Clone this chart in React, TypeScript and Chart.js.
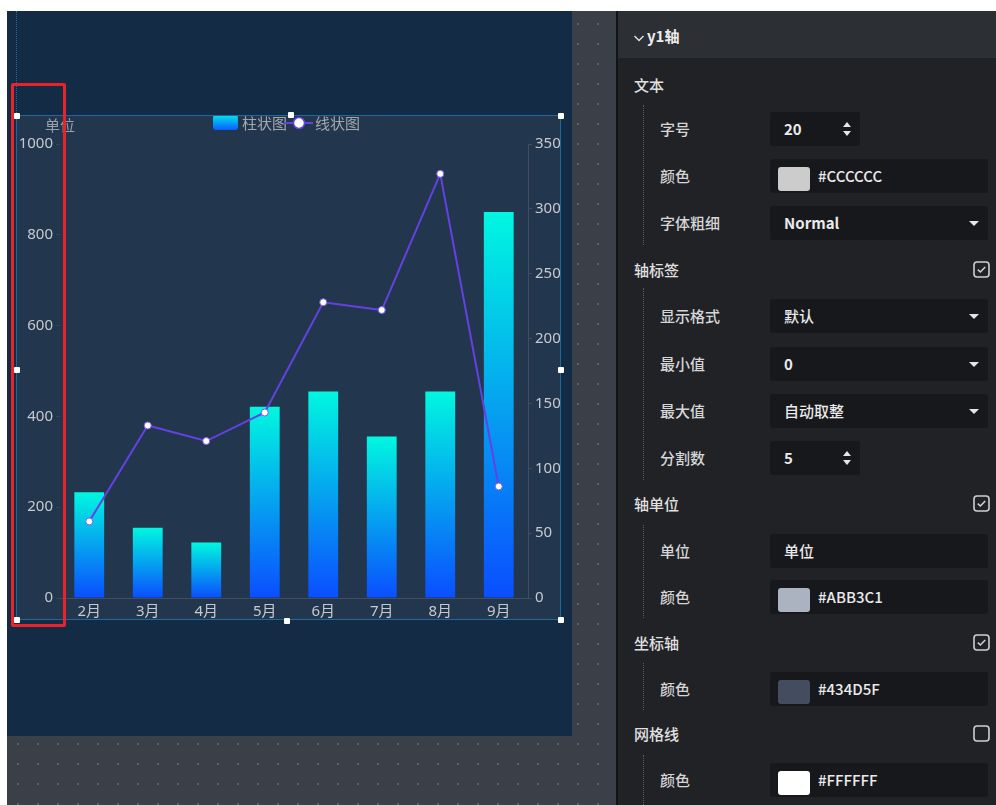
import React, { useEffect, useRef } from 'react';
import { Chart, registerables } from 'chart.js';

Chart.register(...registerables);

// ---------- chart data ----------
const categories = ['2月', '3月', '4月', '5月', '6月', '7月', '8月', '9月'];
const barValues = [233, 155, 122, 421, 455, 356, 455, 850];
const lineValues = [59, 133, 121, 143, 228, 222, 327, 86];
const seriesNames = ['柱状图', '线状图'];
const unitText = '单位';
const leftAxisRange = [0, 1000, 200];
const rightAxisRange = [0, 350, 50];

// ---------- settings panel data ----------
const sectionTitles = ['文本', '轴标签', '轴单位', '坐标轴', '网格线'];
const sectionCenters = [85, 270, 504, 643, 734];
const sectionChecks = [null, true, true, true, false];
const rowLabels = ['字号', '颜色', '字体粗细', '显示格式', '最小值', '最大值', '分割数', '单位', '颜色', '颜色', '颜色'];
const rowTops = [112, 159, 206, 299, 347, 394, 441, 534, 580, 672, 763];
const rowKinds = ['num', 'color', 'select', 'select', 'select', 'select', 'num', 'text', 'color', 'color', 'color'];
const rowValues = ['20', '#CCCCCC', 'Normal', '默认', '0', '自动取整', '5', '单位', '#ABB3C1', '#434D5F', '#FFFFFF'];
const guideSpans = [[105, 245], [288, 480], [525, 618], [663, 710], [755, 805]];

const CJK = '"Noto Sans CJK SC", "Noto Sans", sans-serif';
const TICK_FONT = '"Noto Sans", "Noto Sans CJK SC", sans-serif';

function ChartView() {
  const ref = useRef<HTMLCanvasElement>(null);
  useEffect(() => {
    const canvas = ref.current;
    if (!canvas) return;
    const tickColor = '#c6cad0';
    const axisColor = '#434D5F';
    const plainTick = (v: any) => String(v);

    const overlay = {
      id: 'overlay',
      afterDraw(chart: any) {
        const ctx = chart.ctx as CanvasRenderingContext2D;
        ctx.save();
        ctx.font = `15px ${CJK}`;
        ctx.textBaseline = 'middle';
        ctx.textAlign = 'left';
        // unit label
        ctx.fillStyle = '#98a0ac';
        ctx.fillText(unitText, 30, 17);
        // legend
        const cy = 14;
        const w1 = ctx.measureText(seriesNames[0]).width;
        const L = (chart.chartArea.left + chart.chartArea.right) / 2 - 81;
        const g = ctx.createLinearGradient(0, cy - 7, 0, cy + 8);
        g.addColorStop(0, '#00e6ea');
        g.addColorStop(1, '#0a5cff');
        ctx.fillStyle = g;
        ctx.beginPath();
        (ctx as any).roundRect(L, cy - 7, 25, 15, 3);
        ctx.fill();
        ctx.fillStyle = '#a3a8af';
        ctx.fillText(seriesNames[0], L + 29, cy + 1);
        const lx = L + 29 + w1 - 3;
        ctx.strokeStyle = '#6442e2';
        ctx.lineWidth = 2;
        ctx.beginPath();
        ctx.moveTo(lx, cy + 1);
        ctx.lineTo(lx + 29, cy + 1);
        ctx.stroke();
        ctx.beginPath();
        ctx.arc(lx + 15, cy + 1, 5.5, 0, Math.PI * 2);
        ctx.fillStyle = '#ffffff';
        ctx.fill();
        ctx.lineWidth = 1.5;
        ctx.stroke();
        ctx.fillStyle = '#a3a8af';
        ctx.fillText(seriesNames[1], lx + 31, cy + 1);
        ctx.restore();
      },
    };

    const chart = new Chart(canvas, {
      type: 'bar',
      data: {
        labels: categories,
        datasets: [
          {
            type: 'line',
            label: seriesNames[1],
            data: lineValues,
            yAxisID: 'y1',
            order: 0,
            borderColor: '#6442e2',
            borderWidth: 2,
            tension: 0,
            pointRadius: 3.5,
            pointBackgroundColor: '#ffffff',
            pointBorderColor: '#7a5cf0',
            pointBorderWidth: 1,
          } as any,
          {
            type: 'bar',
            label: seriesNames[0],
            data: barValues,
            yAxisID: 'y',
            order: 1,
            barPercentage: 0.51,
            categoryPercentage: 1,
            backgroundColor: (c: any) => {
              const ch = c.chart;
              if (!ch.chartArea || c.type !== 'data') return '#08a0f0';
              const ys = ch.scales.y;
              const top = ys.getPixelForValue(c.raw);
              const bottom = ys.getPixelForValue(0);
              const gr = ch.ctx.createLinearGradient(0, top, 0, bottom);
              gr.addColorStop(0, '#00f7e0');
              gr.addColorStop(1, '#0a4eff');
              return gr;
            },
          } as any,
        ],
      },
      options: {
        animation: false,
        responsive: true,
        maintainAspectRatio: false,
        layout: { padding: { top: 36, left: 0, right: 0, bottom: 0 } },
        plugins: { legend: { display: false }, tooltip: { enabled: false } },
        scales: {
          x: {
            grid: { display: false, drawTicks: false },
            border: { display: true, color: axisColor, width: 1 },
            ticks: { color: tickColor, font: { size: 15, family: TICK_FONT }, padding: 5, maxRotation: 0 },
            afterFit: (s: any) => { s.height = 22; },
          },
          y: {
            position: 'left',
            min: leftAxisRange[0],
            max: leftAxisRange[1],
            ticks: { stepSize: leftAxisRange[2], color: tickColor, font: { size: 15, family: TICK_FONT }, padding: 3, callback: plainTick },
            grid: { display: true, drawOnChartArea: false, drawTicks: true, tickLength: 4, color: '#33465b' },
            border: { display: false },
            afterFit: (s: any) => { s.width = 45; },
          },
          y1: {
            position: 'right',
            min: rightAxisRange[0],
            max: rightAxisRange[1],
            ticks: { stepSize: rightAxisRange[2], color: tickColor, font: { size: 15, family: TICK_FONT }, padding: 3, callback: plainTick },
            grid: { display: true, drawOnChartArea: false, drawTicks: true, tickLength: 4, color: axisColor },
            border: { display: true, color: axisColor, width: 1 },
            afterFit: (s: any) => { s.width = 42; },
          },
        } as any,
      },
      plugins: [overlay],
    });
    return () => chart.destroy();
  }, []);
  return (
    <div style={{ position: 'absolute', left: 15, top: 108, width: 555, height: 512 }}>
      <canvas ref={ref} />
    </div>
  );
}

function Handle({ x, y }: { x: number; y: number }) {
  return (
    <div style={{ position: 'absolute', left: x - 3, top: y - 3, width: 6, height: 6, background: '#ffffff', borderRadius: 1 }} />
  );
}

function Caret({ x, y }: { x: number; y: number }) {
  return (
    <div style={{ position: 'absolute', left: x - 5, top: y - 2, width: 0, height: 0, borderLeft: '5px solid transparent', borderRight: '5px solid transparent', borderTop: '5px solid #e6e6e6' }} />
  );
}

function Spinner({ x, y }: { x: number; y: number }) {
  return (
    <>
      <div style={{ position: 'absolute', left: x - 4, top: y - 7, width: 0, height: 0, borderLeft: '4px solid transparent', borderRight: '4px solid transparent', borderBottom: '5px solid #e6e6e6' }} />
      <div style={{ position: 'absolute', left: x - 4, top: y + 2, width: 0, height: 0, borderLeft: '4px solid transparent', borderRight: '4px solid transparent', borderTop: '5px solid #e6e6e6' }} />
    </>
  );
}

function CheckBox({ x, y, checked }: { x: number; y: number; checked: boolean }) {
  return (
    <svg style={{ position: 'absolute', left: x, top: y }} width={17} height={17} viewBox="0 0 17 17">
      <rect x={1} y={1} width={15} height={15} rx={3} ry={3} fill="none" stroke="#cfcfcf" strokeWidth={1.6} />
      {checked ? <polyline points="4.8,8.6 7.4,11 12.2,6" fill="none" stroke="#cfcfcf" strokeWidth={1.6} /> : null}
    </svg>
  );
}

function Panel() {
  const items: React.ReactNode[] = [];
  sectionTitles.forEach((t, i) => {
    items.push(
      <div key={'s' + i} style={{ position: 'absolute', left: 16, top: sectionCenters[i] - 11, fontSize: 15, lineHeight: '22px', color: '#e0e0e0', fontWeight: 500 }}>{t}</div>
    );
    const c = sectionChecks[i];
    if (c !== null) items.push(<CheckBox key={'c' + i} x={355} y={sectionCenters[i] - 9} checked={c as boolean} />);
  });
  guideSpans.forEach((g, i) => {
    items.push(
      <div key={'g' + i} style={{ position: 'absolute', left: 25, top: g[0], height: g[1] - g[0], width: 0, borderLeft: '1px dotted #5a5c61' }} />
    );
  });
  rowLabels.forEach((lab, i) => {
    const top = rowTops[i];
    const kind = rowKinds[i];
    const val = rowValues[i];
    const narrow = kind === 'num';
    items.push(
      <div key={'l' + i} style={{ position: 'absolute', left: 42, top: top + 6, fontSize: 15, lineHeight: '22px', color: '#d6d6d6', fontWeight: 500 }}>{lab}</div>
    );
    items.push(
      <div key={'b' + i} style={{ position: 'absolute', left: 152, top, width: narrow ? 90 : 218, height: 34, background: '#17181b', borderRadius: 3 }} />
    );
    if (kind === 'color') {
      items.push(
        <div key={'w' + i} style={{ position: 'absolute', left: 160, top: top + 8, width: 32, height: 24, background: val, borderRadius: 3 }} />
      );
      items.push(
        <div key={'v' + i} style={{ position: 'absolute', left: 200, top: top + 6, fontSize: 15, lineHeight: '22px', color: '#eaeaea', fontWeight: 500 }}>{val}</div>
      );
    } else {
      const isLatin = /^[0-9A-Za-z]+$/.test(val);
      items.push(
        <div key={'v' + i} style={{ position: 'absolute', left: 166, top: top + 6, fontSize: 15, lineHeight: '22px', color: '#eaeaea', fontWeight: isLatin ? 700 : 500 }}>{val}</div>
      );
    }
    if (kind === 'select') items.push(<Caret key={'k' + i} x={356} y={top + 17} />);
    if (kind === 'num') items.push(<Spinner key={'p' + i} x={229} y={top + 17} />);
  });
  return (
    <div style={{ position: 'absolute', left: 618, top: 11, width: 378, height: 794, background: '#202226', overflow: 'hidden' }}>
      <div style={{ position: 'absolute', left: 0, top: 0, width: 378, height: 47, background: '#2c2f33' }} />
      <svg style={{ position: 'absolute', left: 15, top: 22 }} width={12} height={10} viewBox="0 0 12 10">
        <polyline points="1.5,3 6,7.5 10.5,3" fill="none" stroke="#e0e0e0" strokeWidth={1.5} />
      </svg>
      <div style={{ position: 'absolute', left: 29, top: 14, fontSize: 15, lineHeight: '22px', color: '#ececec', fontWeight: 700 }}>y1轴</div>
      <div style={{ position: 'absolute', left: 0, top: -11, width: 378, height: 805 }}>{items}</div>
    </div>
  );
}

export default function App() {
  const dots = 'radial-gradient(circle, #5d626b 0.9px, transparent 1.4px)';
  return (
    <div style={{ position: 'fixed', left: 0, top: 0, width: 996, height: 805, overflow: 'hidden', background: '#ffffff', fontFamily: CJK }}>
      {/* editor area */}
      <div style={{ position: 'absolute', left: 7, top: 11, width: 609, height: 794, background: '#3b3f47', backgroundImage: dots, backgroundSize: '20px 20px', backgroundPosition: '1px 3px' }} />
      <div style={{ position: 'absolute', left: 616, top: 11, width: 2, height: 794, background: '#121316' }} />
      {/* navy page */}
      <div style={{ position: 'absolute', left: 7, top: 11, width: 565, height: 725, background: '#132b45' }} />
      {/* guide line */}
      <div style={{ position: 'absolute', left: 16, top: 11, width: 0, height: 104, borderLeft: '1px dotted #1f6aa3' }} />
      {/* chart component background */}
      <div style={{ position: 'absolute', left: 16, top: 115, width: 545, height: 505, background: '#22364d' }} />
      <ChartView />
      {/* selection frame */}
      <div style={{ position: 'absolute', left: 16, top: 115, width: 545, height: 505, border: '1px solid #1e6a9c', boxSizing: 'border-box', pointerEvents: 'none' }} />
      <Handle x={17} y={116} />
      <Handle x={291} y={115} />
      <Handle x={561} y={116} />
      <Handle x={17} y={370} />
      <Handle x={561} y={370} />
      <Handle x={17} y={620} />
      <Handle x={287} y={621} />
      <Handle x={561} y={620} />
      {/* red highlight box */}
      <div style={{ position: 'absolute', left: 11, top: 83, width: 55, height: 544, border: '3px solid #e8242a', borderRadius: 2, boxSizing: 'border-box', pointerEvents: 'none' }} />
      <Panel />
    </div>
  );
}
